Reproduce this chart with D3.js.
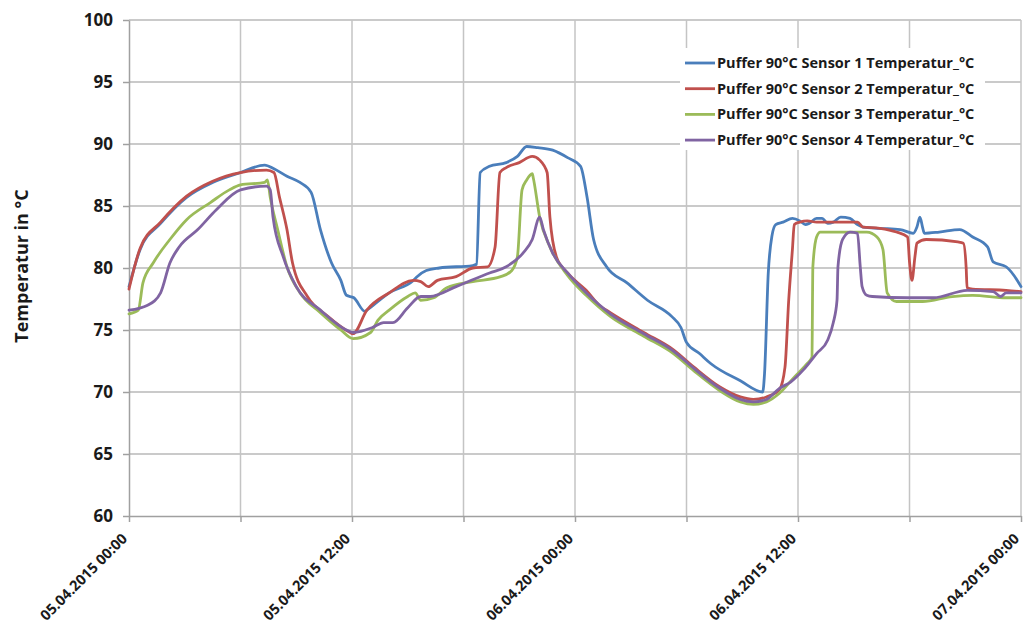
<!DOCTYPE html>
<html>
<head>
<meta charset="utf-8">
<script src="https://cdn.jsdelivr.net/npm/d3@7/dist/d3.min.js"></script>
<style>
  html, body { margin: 0; padding: 0; background: #fff; }
  svg { display: block; }
  text { font-family: "Open Sans", Lato, sans-serif; font-weight: bold; fill: #1a1a1a; }
</style>
</head>
<body>
<svg id="chart" width="1026" height="625"></svg>
<script>
// Time axis: hours since 05.04.2015 00:00
const startDate = new Date(2015, 3, 5, 0, 0);
const xTickHours = [0, 6, 12, 18, 24, 30, 36, 42, 48];
const xLabelHours = [0, 12, 24, 36, 48];
const yTicks = [60, 65, 70, 75, 80, 85, 90, 95, 100];

const seriesNames = [
  "Puffer 90°C Sensor 1 Temperatur_°C",
  "Puffer 90°C Sensor 2 Temperatur_°C",
  "Puffer 90°C Sensor 3 Temperatur_°C",
  "Puffer 90°C Sensor 4 Temperatur_°C"
];
const seriesColors = ["#4a7ebb", "#c0504d", "#9bbb59", "#8064a2"];

// [hour, °C]
const sensor1 = [[0,78.5],[0.6,81.5],[1.7,83.6],[3.1,85.7],[4.5,86.9],[6.0,87.7],[7.3,88.3],[7.8,88.0],[8.5,87.4],[9.2,86.9],[9.8,86.1],[10.3,83.1],[10.9,80.4],[11.4,79.0],[11.7,77.8],[12.1,77.6],[12.7,76.5],[12.8,76.6],[14.0,78.0],[15.3,79.0],[15.5,79.3],[16.0,79.8],[16.7,80.0],[18.5,80.2],[18.7,80.3],[18.9,87.7],[19.4,88.2],[20.3,88.5],[20.9,89.0],[21.4,89.8],[22.0,89.7],[22.8,89.5],[23.6,88.9],[24.3,88.2],[24.65,85.7],[25.0,82.3],[25.7,80.1],[26.8,78.8],[27.9,77.4],[29.2,76.1],[29.7,75.2],[30.0,74.0],[30.7,73.1],[31.3,72.3],[32.9,70.9],[34.1,70.0],[34.2,71.5],[34.4,79.6],[34.6,82.6],[34.8,83.5],[35.2,83.7],[35.7,84.0],[36.1,83.8],[36.4,83.5],[36.6,83.6],[37.0,84.0],[37.3,84.0],[37.6,83.6],[37.9,83.7],[38.3,84.1],[38.8,84.0],[39.2,83.5],[39.5,83.3],[40.4,83.2],[41.5,83.1],[42.2,82.8],[42.4,83.3],[42.56,84.1],[42.7,83.3],[42.8,82.8],[43.6,82.9],[44.7,83.1],[45.4,82.5],[46.2,81.7],[46.5,80.5],[47.2,80.1],[47.8,79.0],[48,78.5]];

const sensor2 = [[0,78.3],[0.6,81.6],[1.7,83.7],[3.1,85.8],[4.5,87.0],[6.0,87.7],[7.4,87.9],[7.8,87.7],[8.1,85.7],[8.5,83.1],[8.8,80.4],[9.6,77.7],[10.7,76.1],[11.9,74.8],[12.05,74.7],[12.8,76.6],[14.0,78.0],[15.3,79.0],[15.7,78.9],[16.1,78.5],[16.6,79.0],[17.6,79.3],[18.5,80.0],[19.3,80.1],[19.7,81.7],[19.96,87.7],[20.3,88.1],[21.0,88.5],[21.7,89.0],[22.1,88.7],[22.5,87.7],[22.65,84.1],[23.0,80.9],[23.6,79.6],[24.6,78.2],[25.3,77.0],[25.9,76.4],[27.7,74.8],[29.3,73.4],[30.4,72.0],[31.8,70.4],[32.9,69.6],[33.6,69.4],[34.3,69.6],[35.0,70.2],[35.3,72.0],[35.5,77.4],[35.7,81.5],[35.8,83.5],[36.1,83.7],[36.5,83.8],[37.0,83.7],[39.2,83.7],[39.5,83.3],[40.4,83.2],[41.3,82.9],[41.9,82.5],[42.0,80.5],[42.13,79.0],[42.3,81.0],[42.4,82.0],[42.9,82.3],[44.6,82.1],[44.9,82.0],[45.05,80.0],[45.1,78.4],[45.4,78.3],[47.2,78.2],[48,78.1]];

const sensor3 = [[0,76.3],[0.5,76.6],[0.75,78.8],[1.3,80.4],[2.2,82.3],[3.1,83.9],[4.4,85.3],[5.4,86.3],[6.0,86.7],[7.3,86.9],[7.45,87.1],[7.6,85.7],[8.0,83.1],[8.5,80.1],[9.2,78.0],[10.3,76.4],[11.4,75.0],[12.05,74.3],[13.0,74.8],[13.4,75.8],[14.0,76.6],[15.0,77.7],[15.4,78.0],[15.7,77.4],[16.4,77.6],[17.1,78.4],[18.5,78.9],[20.0,79.3],[20.6,79.8],[20.9,80.9],[21.15,86.3],[21.4,87.1],[21.7,87.6],[21.75,87.3],[22.1,84.1],[22.65,81.7],[23.6,79.4],[24.6,77.8],[25.9,76.1],[27.7,74.5],[29.3,73.1],[30.4,71.7],[31.8,70.1],[32.9,69.2],[33.6,69.0],[34.3,69.2],[35.0,69.9],[35.8,71.2],[36.5,72.3],[36.75,72.8],[36.8,80.1],[37.0,82.5],[37.2,82.9],[38.0,82.9],[39.7,82.9],[40.25,82.5],[40.57,81.5],[40.8,78.0],[41.3,77.3],[42.7,77.3],[44.3,77.7],[45.4,77.8],[47.2,77.6],[48,77.6]];

const sensor4 = [[0,76.6],[1.0,77.0],[1.7,78.0],[2.2,80.4],[2.7,81.7],[3.7,83.1],[4.7,84.7],[6.0,86.3],[7.4,86.6],[7.6,86.3],[7.75,84.1],[8.3,80.9],[9.0,78.5],[10.3,76.6],[11.7,75.0],[12.05,74.8],[13.1,75.2],[13.7,75.6],[14.2,75.6],[15.0,76.8],[15.7,77.7],[16.2,77.7],[17.6,78.5],[19.4,79.6],[20.3,80.1],[21.2,81.2],[21.7,82.3],[22.1,84.1],[22.3,83.1],[22.8,81.2],[23.6,79.6],[24.6,78.0],[25.9,76.3],[27.7,74.7],[29.3,73.3],[30.4,71.9],[31.8,70.3],[32.9,69.4],[33.6,69.2],[34.3,69.4],[35.0,70.3],[35.6,70.8],[36.3,71.8],[37.0,73.1],[37.6,74.2],[37.9,75.6],[38.1,77.4],[38.15,80.1],[38.4,82.3],[38.8,82.9],[39.2,82.8],[39.35,80.1],[39.45,78.5],[39.7,77.8],[40.0,77.7],[41.9,77.6],[43.3,77.6],[45.1,78.2],[46.5,78.1],[46.9,77.7],[47.2,78.0],[48,78.0]];

const allSeries = [sensor1, sensor2, sensor3, sensor4];

const margin = { left: 129, top: 20, right: 5, bottom: 109 };
const W = 1026, H = 625;
const innerW = W - margin.left - margin.right;
const innerH = H - margin.top - margin.bottom;

const hourMs = 3600 * 1000;
const toDate = h => new Date(startDate.getTime() + h * hourMs);

const x = d3.scaleTime().domain([toDate(0), toDate(48)]).range([0, innerW]);
const y = d3.scaleLinear().domain([60, 100]).range([innerH, 0]);

const svg = d3.select("#chart");
const g = svg.append("g").attr("transform", `translate(${margin.left},${margin.top})`);

// Grid lines
g.append("g").selectAll("line").data(yTicks.slice(1)).join("line")
  .attr("x1", 0).attr("x2", innerW)
  .attr("y1", d => y(d)).attr("y2", d => y(d))
  .attr("stroke", "#b8b8b8").attr("stroke-width", 1.5);
g.append("g").selectAll("line").data(xTickHours.slice(1)).join("line")
  .attr("x1", d => x(toDate(d))).attr("x2", d => x(toDate(d)))
  .attr("y1", 0).attr("y2", innerH)
  .attr("stroke", "#c4c4c4").attr("stroke-width", 1.5);

// Y axis
const yAxis = g.append("g")
  .call(d3.axisLeft(y).tickValues(yTicks).tickSize(6).tickPadding(10).tickSizeOuter(0));
yAxis.select(".domain").attr("stroke", "#a0a0a0").attr("stroke-width", 1.5);
yAxis.selectAll(".tick line").attr("stroke", "#a0a0a0").attr("stroke-width", 1.5);
yAxis.selectAll(".tick text").style("font-size", "17px").attr("fill", "#1a1a1a");

// X axis
const fmt = d3.timeFormat("%d.%m.%Y %H:%M");
const xAxis = g.append("g").attr("transform", `translate(0,${innerH})`)
  .call(d3.axisBottom(x).tickValues(xTickHours.map(toDate)).tickSize(6).tickSizeOuter(0)
    .tickFormat(d => xLabelHours.includes((d - startDate) / hourMs) ? fmt(d) : ""));
xAxis.select(".domain").attr("stroke", "#a0a0a0").attr("stroke-width", 1.5);
xAxis.selectAll(".tick line").attr("stroke", "#a0a0a0").attr("stroke-width", 1.5);
xAxis.selectAll(".tick text")
  .style("font-size", "14.5px").attr("fill", "#1a1a1a")
  .attr("text-anchor", "end")
  .attr("dy", "0.35em")
  .attr("transform", "translate(-5,20) rotate(-45)")
  .attr("y", 0).attr("x", 0);

// Axis title
svg.append("text")
  .attr("transform", `translate(28,${margin.top + innerH / 2 - 2}) rotate(-90)`)
  .attr("text-anchor", "middle")
  .style("font-size", "18px")
  .text("Temperatur in °C");

// Series lines
const line = d3.line()
  .x(d => x(toDate(d[0])))
  .y(d => y(d[1]))
  .curve(d3.curveMonotoneX);

g.append("g").selectAll("path").data(allSeries).join("path")
  .attr("d", line)
  .attr("fill", "none")
  .attr("stroke", (d, i) => seriesColors[i])
  .attr("stroke-width", 2.8)
  .attr("stroke-linejoin", "round")
  .attr("stroke-linecap", "round");

// Legend
const legend = svg.append("g").attr("transform", "translate(680,48)");
legend.append("rect").attr("x", 0).attr("y", 0).attr("width", 305).attr("height", 102).attr("fill", "#fff");
const rows = legend.selectAll("g.row").data(seriesNames).join("g")
  .attr("class", "row")
  .attr("transform", (d, i) => `translate(0,${15 + i * 25.7})`);
rows.append("line")
  .attr("x1", 5).attr("x2", 35).attr("y1", 0).attr("y2", 0)
  .attr("stroke", (d, i) => seriesColors[i]).attr("stroke-width", 2.8);
rows.append("text")
  .attr("x", 37).attr("dy", "0.35em")
  .style("font-size", "14.5px")
  .text(d => d);
</script>
</body>
</html>
